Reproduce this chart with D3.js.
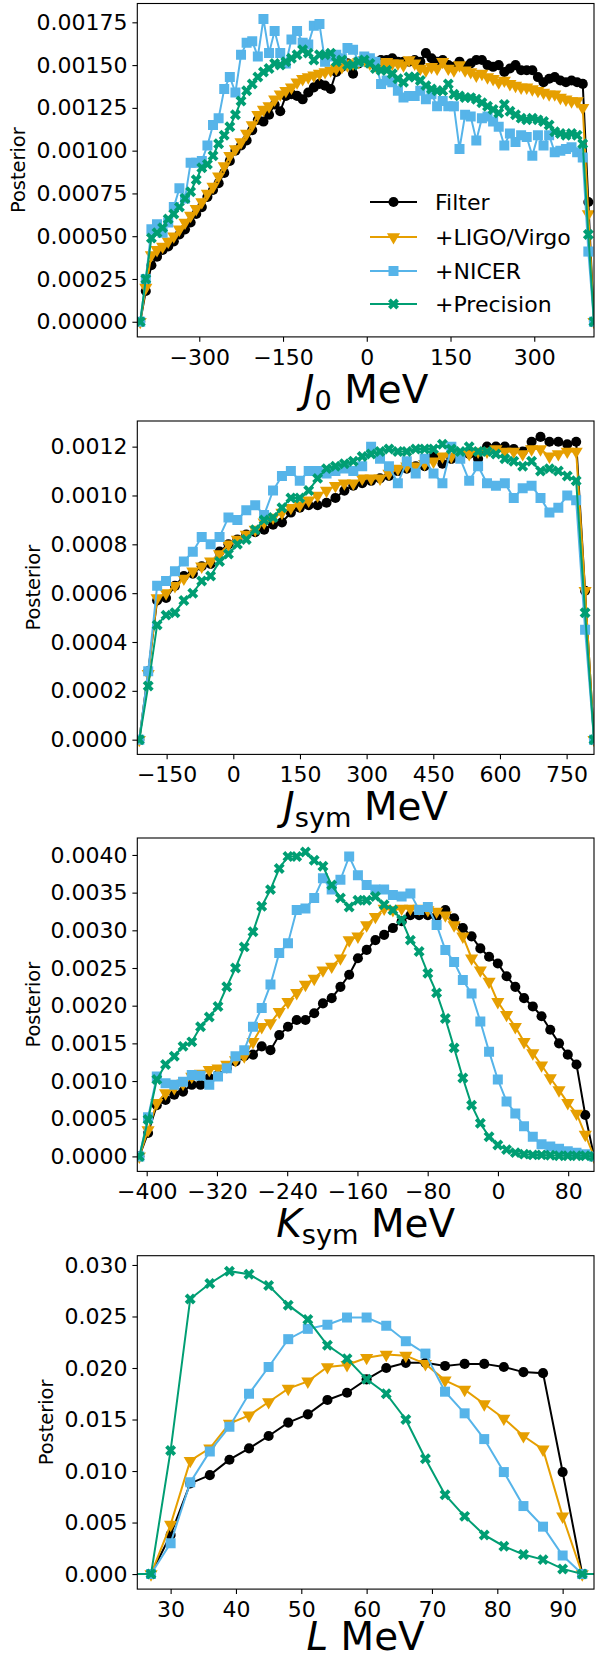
<!DOCTYPE html>
<html>
<head>
<meta charset="utf-8">
<script src="https://cdn.jsdelivr.net/npm/d3@7"></script>
<style>
  body { margin: 0; background: #fff; }
  text { font-family: "DejaVu Sans", sans-serif; }
</style>
</head>
<body>
<div id="chart"></div>
<script>
// Series names & colours
var seriesNames = ["Filter", "+LIGO/Virgo", "+NICER", "+Precision"];
var seriesColors = ["#000000", "#E69F00", "#56B4E9", "#009E73"];

// Posterior values, panels 1-3 stored in units of 1e-5, panel 4 in units of 1e-3

// J0 panel (82 points, first and last are the range edges)
var j0Filter = [0,18,33,38,42,44,47,51,54,58, 63,67,73,77,81,87,94,100,103,106,
  112,118,117,121,127,123,132,133,132,130, 134,137,139,138,136,146,149,151,145,151,
  153,152,150,153,153,154,152,152,152,153, 152,157,154,152,153,150,149,152,149,151,
  153,153,150,149,150,146,148,150,147,147, 147,143,140,142,143,141,140,141,140,139, 70,0];
var j0Ligo = [0,20,39,42,44,47,50,54,58,62, 66,70,75,79,85,91,97,101,105,110,
  115,121,124,126,130,133,135,137,140,142, 143,144,145,146,147,148,149,150,151,152,
  153,151,150,151,152,151,151,150,153,151, 148,147,149,148,152,148,147,150,147,146,
  144,145,143,142,140,141,139,138,137,137, 136,135,134,133,133,131,130,129,129,125, 63,0];
var j0Nicer = [0,25,54,57,52,58,67,78,72,93, 93,94,103,115,119,136,143,134,156,163,
  164,155,177,157,170,157,151,165,170,163, 162,173,174,152,155,156,154,160,159,152,
  155,154,152,139,141,140,135,131,132,132, 135,130,133,126,129,126,126,101,121,120,
  106,119,120,117,114,103,110,105,109,108, 97,109,103,109,99,100,101,102,99,96, 41,0];
var j0Precision = [0,25,49,52,55,60,63,67,72,76, 83,90,92,97,104,109,114,121,129,135,
  139,143,146,148,151,150,152,154,156,159, 157,153,156,156,157,152,153,150,150,152,
  153,151,148,147,147,145,142,140,143,143, 141,138,136,135,135,139,133,132,131,131,
  130,128,126,124,122,127,123,121,119,118, 119,118,117,115,111,110,109,110,109,104, 51,0];

// Jsym panel (52 points)
var jsymFilter = [0, 28,57,58,63,67,68,71,72,77,80, 82,84,85,86,88,89,93,95,96,96,
  97,99,102,104,105,106,107,108,110,111, 112,112,116,113,115,117,117,115,120,120,
  120,119,118,122,124,122,122,121,122,61, 0];
var jsymLigo = [0, 27,58,60,63,66,69,71,73,76,80, 82,84,86,89,91,93,95,96,98,100,
  102,104,105,105,107,107,107,109,111,112, 112,113,114,116,116,117,117,118,118,119,
  118,118,117,119,119,116,117,118,118,61, 0];
var jsymNicer = [0, 28,63,65,69,73,77,83,80,83,91, 90,94,96,92,102,108,110,106,110,110,
  109,110,111,110,112,120,115,112,105,114, 109,115,109,105,120,115,106,112,105,104,
  105,99,103,104,99,93,95,100,98,45, 0];
var jsymPrecision = [0, 22,47,51,52,57,60,65,67,73,76, 80,82,86,90,91,95,99,99,102,107,
  111,112,113,114,116,117,118,119,118,118, 119,119,119,121,119,118,120,118,118,117,
  115,114,112,114,110,111,110,108,106,52, 0];

// Ksym panel (53 points)
var ksymFilter = [0, 31,68,75,82,86,95,95,104,108,117, 126,133,135,146,141,161,172,181,181,190,
  203,210,225,241,263,274,287,294,303,312, 320,320,320,318,327,316,303,292,276,265,
  256,239,225,210,199,186,168,150,135,122, 55, 0];
var ksymLigo = [0, 35,71,84,91,97,106,110,115,117,122, 128,133,152,172,177,192,205,217,228,236,
  247,252,263,287,292,307,318,329,327,329, 329,329,327,325,320,307,292,263,247,232,
  205,188,172,152,137,121,104,88,71,57, 29, 0];
var ksymNicer = [0, 52,106,97,95,99,108,107,95,106,117, 133,141,172,197,228,270,283,327,329,343,
  369,354,367,398,373,360,354,354,347,345, 349,327,331,307,274,258,234,216,179,139,
  102,73,57,40,26,16,13,10,7,5, 3, 0];
var ksymPrecision = [0, 49,102,122,133,146,152,172,185,199,225, 250,278,298,332,354,382,398,398,404,393,
  385,360,343,331,340,340,345,334,327,314, 287,272,243,217,183,144,104,68,44,26,
  15,9,5,3,2,2,1.5,1,1,1, 1, 0];

// L panel (L = 24 ... 96 in steps of 3)
var lValues = d3.range(24, 97, 3);
var lFilter = [0,0,3.8,8.8,9.6,11.1,12.2,13.4,14.7,15.5,16.9,17.6,18.9,20.0,20.5,20.5,20.2,20.4,20.4,20.1,19.6,19.5,9.9,0,0];
var lLigo = [0,0,4.8,11.0,12.2,14.6,15.4,16.7,18.0,18.7,20.1,20.3,21.0,21.3,21.2,20.4,18.8,17.9,16.5,15.1,13.4,12.1,5.6,0,0];
var lNicer = [0,0,3.0,8.9,11.9,14.3,17.5,20.1,22.8,23.8,24.2,24.9,24.9,24.1,22.6,21.4,17.7,15.6,13.1,9.9,6.6,4.6,1.8,0,0];
var lPrecision = [0,0,12.0,26.7,28.2,29.4,29.1,28.0,26.1,24.7,22.2,20.9,18.9,17.5,15.0,11.2,7.7,5.6,3.8,2.7,1.9,1.4,0.5,0,0];

// Tick labels
var j0XTicks = [-300, -150, 0, 150, 300];
var jsymXTicks = [-150, 0, 150, 300, 450, 600, 750];
var ksymXTicks = [-400, -320, -240, -160, -80, 0, 80];
var lXTicks = [30, 40, 50, 60, 70, 80, 90];
var j0YTicks = [0, 0.00025, 0.0005, 0.00075, 0.001, 0.00125, 0.0015, 0.00175];
var jsymYTicks = [0, 0.0002, 0.0004, 0.0006, 0.0008, 0.001, 0.0012];
var ksymYTicks = [0, 0.0005, 0.001, 0.0015, 0.002, 0.0025, 0.003, 0.0035, 0.004];
var lYTicks = [0, 0.005, 0.01, 0.015, 0.02, 0.025, 0.03];

// evenly spaced grid between the range edges
function edgeGrid(lo, hi, n) {
  return d3.range(n).map(function(i) { return lo + i * (hi - lo) / (n - 1); });
}

var panels = [
  { sym: "J", sub: "0", top: 3.5, xs: edgeGrid(-405.8, 406.9, 82), unit: 1e-5,
    series: [j0Filter, j0Ligo, j0Nicer, j0Precision],
    xDomain: [-411, 407], yDomain: [-0.0000885, 0.00186],
    xTicks: j0XTicks, yTicks: j0YTicks, yFormat: ".5f", labelX: 25, titleOff: 66 },
  { sym: "J", sub: "sym", top: 421, xs: edgeGrid(-211.5, 811.6, 52), unit: 1e-5,
    series: [jsymFilter, jsymLigo, jsymNicer, jsymPrecision],
    xDomain: [-216, 811.6], yDomain: [-0.0000603, 0.001305],
    xTicks: jsymXTicks, yTicks: jsymYTicks, yFormat: ".4f", labelX: 40, titleOff: 66 },
  { sym: "K", sub: "sym", top: 838, xs: edgeGrid(-408.4, 109.4, 53), unit: 1e-5,
    series: [ksymFilter, ksymLigo, ksymNicer, ksymPrecision],
    xDomain: [-410.7, 109.4], yDomain: [-0.000199, 0.004225],
    xTicks: ksymXTicks, yTicks: ksymYTicks, yFormat: ".4f", labelX: 40, titleOff: 66 },
  { sym: "L", sub: "", top: 1255.7, xs: lValues, unit: 1e-3,
    series: [lFilter, lLigo, lNicer, lPrecision],
    xDomain: [24.9, 94.8], yDomain: [-0.00146, 0.0309],
    xTicks: lXTicks, yTicks: lYTicks, yFormat: ".3f", labelX: 53, titleOff: 60.5 }
];

// Marker shapes
var markers = [
  { path: d3.symbol(d3.symbolCircle, 80)(), rot: 0 },
  { path: d3.symbol(d3.symbolTriangle, 75)(), rot: 180 },
  { path: d3.symbol(d3.symbolSquare, 100)(), rot: 0 },
  { path: d3.symbol(d3.symbolCross, 75)(), rot: 45 }
];

var width = 595, height = 1659;
var left = 137.3, right = 594, plotH = 333.4;

var svg = d3.select("#chart").append("svg")
  .attr("width", width)
  .attr("height", height);

panels.forEach(function(p, k) {
  var top = p.top, bottom = p.top + plotH;

  var xScale = d3.scaleLinear().domain(p.xDomain).range([left, right]);
  var yScale = d3.scaleLinear().domain(p.yDomain).range([bottom, top]);

  svg.append("clipPath").attr("id", "clip" + k)
    .append("rect")
    .attr("x", left).attr("y", top)
    .attr("width", right - left).attr("height", plotH);

  var plot = svg.append("g").attr("clip-path", "url(#clip" + k + ")");

  var line = d3.line()
    .x(function(d) { return xScale(d[0]); })
    .y(function(d) { return yScale(d[1]); });

  p.series.forEach(function(vals, s) {
    var pts = vals.map(function(v, i) { return [p.xs[i], v * p.unit]; });
    plot.append("path")
      .datum(pts)
      .attr("d", line)
      .attr("fill", "none")
      .attr("stroke", seriesColors[s])
      .attr("stroke-width", 2);
    plot.selectAll(null)
      .data(pts)
      .enter()
      .append("path")
      .attr("d", markers[s].path)
      .attr("transform", function(d) {
        return "translate(" + xScale(d[0]) + "," + yScale(d[1]) + ") rotate(" + markers[s].rot + ")";
      })
      .attr("fill", seriesColors[s]);
  });

  // Axes
  var xAxis = d3.axisBottom(xScale)
    .tickValues(p.xTicks)
    .tickFormat(d3.format("d"))
    .tickSize(4.9).tickPadding(7.4).tickSizeOuter(0);
  var yAxis = d3.axisLeft(yScale)
    .tickValues(p.yTicks)
    .tickFormat(d3.format(p.yFormat))
    .tickSize(4.9).tickPadding(4.9).tickSizeOuter(0);

  var gx = svg.append("g")
    .attr("transform", "translate(0," + bottom + ")")
    .call(xAxis);
  var gy = svg.append("g")
    .attr("transform", "translate(" + left + ",0)")
    .call(yAxis);

  [gx, gy].forEach(function(g) {
    g.select(".domain").remove();
    g.attr("font-family", "DejaVu Sans, sans-serif").attr("font-size", 22);
    g.selectAll(".tick line").attr("stroke", "#000").attr("stroke-width", 1.1);
    g.selectAll(".tick text").attr("fill", "#000");
  });

  // Frame
  svg.append("rect")
    .attr("x", left).attr("y", top)
    .attr("width", right - left).attr("height", plotH)
    .attr("fill", "none")
    .attr("stroke", "#000")
    .attr("stroke-width", 1.1);

  // Y Axis Label
  svg.append("text")
    .attr("transform", "translate(" + p.labelX + "," + (top + plotH / 2) + ") rotate(-90)")
    .attr("text-anchor", "middle")
    .attr("font-size", 19.4)
    .text("Posterior");

  // X Axis Label
  var xl = svg.append("text")
    .attr("x", (left + right) / 2)
    .attr("y", bottom + p.titleOff)
    .attr("text-anchor", "middle")
    .attr("font-size", 38.9);
  xl.append("tspan").attr("font-style", "italic").text(p.sym);
  if (p.sub) {
    xl.append("tspan").attr("font-size", 27.2).attr("dy", 7).text(p.sub);
    xl.append("tspan").attr("dy", -7).text("\u00a0MeV");
  } else {
    xl.append("tspan").text("\u00a0MeV");
  }

  // Legend (first panel only)
  if (k === 0) {
    var rowsY = [202, 237, 271, 304];
    seriesNames.forEach(function(name, s) {
      var lg = svg.append("g");
      lg.append("line")
        .attr("x1", 370).attr("x2", 417)
        .attr("y1", rowsY[s]).attr("y2", rowsY[s])
        .attr("stroke", seriesColors[s]).attr("stroke-width", 2);
      lg.append("path")
        .attr("d", markers[s].path)
        .attr("transform", "translate(393.5," + rowsY[s] + ") rotate(" + markers[s].rot + ")")
        .attr("fill", seriesColors[s]);
      lg.append("text")
        .attr("x", 435)
        .attr("y", rowsY[s] + 8)
        .attr("font-size", 22)
        .text(name);
    });
  }
});
</script>
</body>
</html>
